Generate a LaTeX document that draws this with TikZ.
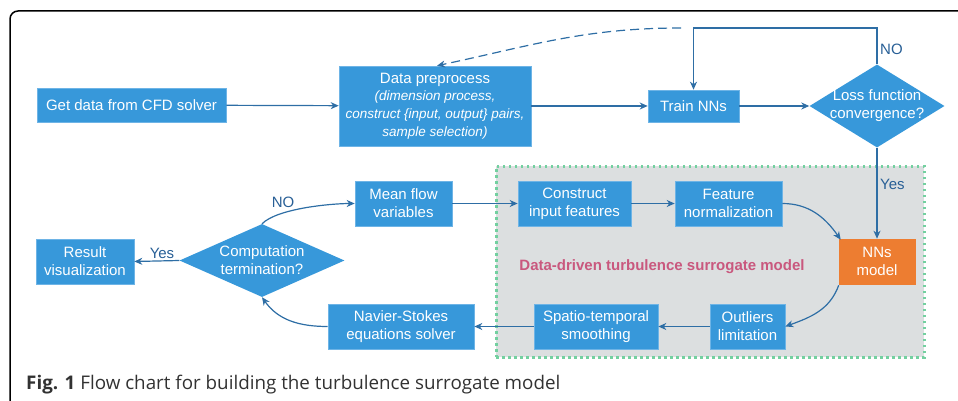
\documentclass[tikz,border=0pt]{standalone}
\usepackage{fontspec}
\setmainfont{Liberation Sans}
\newfontfamily\capfont{Open Sans}
\usetikzlibrary{arrows.meta,shapes.geometric}
\definecolor{boxblue}{RGB}{55,152,218}
\definecolor{boxedge}{RGB}{110,180,230}
\definecolor{lineblue}{RGB}{46,110,165}
\definecolor{lblblue}{RGB}{40,95,150}
\definecolor{nnorange}{RGB}{237,125,49}
\definecolor{regiongray}{RGB}{220,223,224}
\definecolor{regiongreen}{RGB}{115,208,160}
\definecolor{pinktext}{RGB}{201,88,126}
\definecolor{captext}{RGB}{50,50,50}
\begin{document}
\begin{tikzpicture}[x=1pt,y=-1pt,
  box/.style={rectangle, fill=boxblue, draw=boxedge, line width=0.6pt, text=white, align=center, inner sep=0pt, font=\fontsize{15}{18}\selectfont},
  diam/.style={diamond, fill=boxblue, inner sep=0pt},
  dtext/.style={text=white, align=center, inner sep=0pt, font=\fontsize{15}{18}\selectfont},
  arr/.style={draw=lineblue, line width=1.2pt, -{Stealth[length=8pt,width=7pt,inset=2.5pt]}},
  lbl/.style={text=lblblue, inner sep=0pt, font=\fontsize{15}{18}\selectfont},
]
\useasboundingbox (0,0) rectangle (958,401);
% outer frame
\draw[line width=1.5pt, rounded corners=8pt] (10,401) -- (10,11) -- (960,11);

% region
\node[rectangle, fill=regiongray, draw=regiongreen, line width=3pt, dash pattern=on 2.5pt off 3.5pt,
      minimum width=428, minimum height=191, inner sep=0pt] (region) at (710,261.5) {};
\node[text=pinktext, inner sep=0pt, font=\bfseries\fontsize{15}{18}\selectfont] (regionlbl) at (662,267) {Data-driven turbulence surrogate model};

% top row
\node[box, minimum width=189, minimum height=34] (get) at (131.5,105) {Get data from CFD solver};
\node[box, minimum width=192, minimum height=80] (prep) at (435,106)
  {\fontsize{15}{17}\selectfont Data preprocess\\[-1pt]
   \fontsize{13.5}{15}\selectfont\itshape (dimension process,\\
   \fontsize{13.5}{15}\selectfont\itshape construct \{input, output\} pairs,\\
   \fontsize{13.5}{15}\selectfont\itshape sample selection)};
\node[box, minimum width=91, minimum height=32] (train) at (693.5,106) {Train NNs};
\node[diam, minimum width=135, minimum height=83] (loss) at (877,106) {};
\node[dtext] (losstxt) at (877,106) {Loss function\\convergence?};

% middle row
\node[box, minimum width=97, minimum height=45] (mean) at (403.5,203.5) {Mean flow\\variables};
\node[box, minimum width=113, minimum height=45] (cif) at (574.5,203.5) {Construct\\input features};
\node[box, minimum width=107, minimum height=45] (fn) at (728.5,203.5) {Feature\\normalization};
\node[box, fill=nnorange, draw=nnorange, minimum width=76, minimum height=45] (nns) at (877,261.5) {NNs\\model};
\node[diam, minimum width=165, minimum height=73] (comp) at (262,260.5) {};
\node[dtext] (comptxt) at (262,260.5) {Computation\\termination?};
\node[box, minimum width=98, minimum height=45] (res) at (85,261.5) {Result\\visualization};

% bottom row
\node[box, minimum width=146, minimum height=45] (ns) at (401,326.5) {Navier-Stokes\\equations solver};
\node[box, minimum width=124, minimum height=45] (sts) at (596,326.5) {Spatio-temporal\\smoothing};
\node[box, minimum width=75, minimum height=45] (outl) at (747.5,326.5) {Outliers\\limitation};

% connectors
\coordinate (top) at (877,28);
\coordinate (junc) at (693.5,28);
\coordinate (dstart) at (681,28);
\draw[arr] (get) -- (prep);
\draw[arr] (prep) -- (train);
\draw[arr] (train) -- (loss);
\draw[arr] (loss.north) -- (top) -- (junc) -- (train.north);
\draw[arr, dash pattern=on 9pt off 5pt] (dstart) to[out=180, in=12] ([xshift=2pt]prep.north);
\node[lbl, anchor=west] (nolbl1) at (880,49) {NO};
\draw[arr] (loss.south) -- (nns.north);
\node[lbl, anchor=west] (yeslbl1) at (880,184) {Yes};

\draw[arr] (mean) -- (cif);
\draw[arr] (cif) -- (fn);
\draw[arr] (fn.east) to[out=0, in=125] ([xshift=2pt,yshift=-1pt]nns.north west);
\draw[arr] ([yshift=-1pt]nns.south west) to[out=-110, in=20] (outl.east);
\draw[arr] (outl) -- (sts);
\draw[arr] (sts) -- (ns);
\draw[arr] (ns.west) to[out=180, in=-55] (comp.south);
\draw[arr] (comp.north) to[out=45, in=180, looseness=0.6] (mean.west);
\node[lbl] (nolbl2) at (283,202) {NO};
\draw[arr] (comp.west) -- (res.east);
\node[lbl] (yeslbl2) at (162,253) {Yes};

% caption
\node[anchor=base west, inner sep=0pt, text=captext, font=\capfont\fontsize{18.8}{20}\selectfont] (cap) at (26,389)
  {\textbf{Fig. 1} Flow chart for building the turbulence surrogate model};
\end{tikzpicture}
\end{document}
